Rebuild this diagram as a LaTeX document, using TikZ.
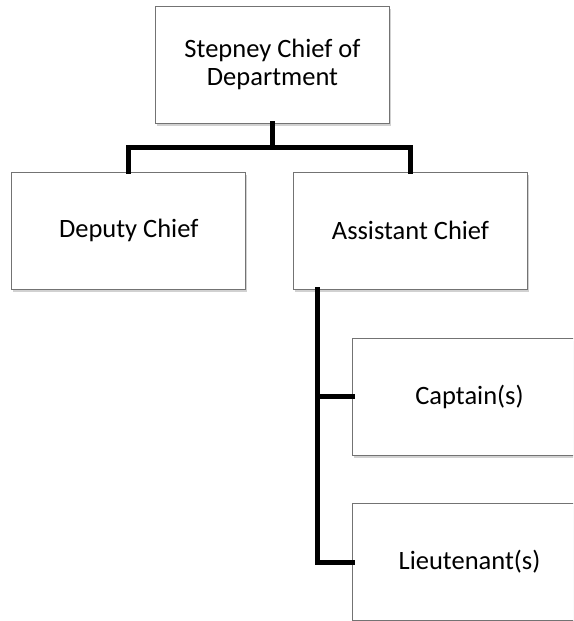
\documentclass[tikz,border=0pt]{standalone}
\usepackage{fontspec}
\setmainfont{Carlito}
\usetikzlibrary{shadows}
\tikzset{
  orgbox/.style={draw=black!55, line width=0.9pt, fill=white, minimum width=234pt, minimum height=117pt,
    inner sep=0pt, align=center, font=\fontsize{26.5}{28.5}\selectfont,
    drop shadow={shadow xshift=1.5pt, shadow yshift=-2.5pt, opacity=0.3, fill=black!60}},
  link/.style={line width=5pt, line join=miter, line cap=rect}
}
\begin{document}
\begin{tikzpicture}[x=1pt,y=-1pt]
\useasboundingbox (0,0) rectangle (573,621);
\clip (0,0) rectangle (573,621);
\node[orgbox] (top) at (272.5,64.5) {Stepney Chief of\\Department};
\node[orgbox] (dep) at (128.7,230.5) {Deputy Chief};
\node[orgbox] (asst) at (410.5,230.5) {Assistant Chief};
\node[orgbox] (capt) at (469.5,396.5) {Captain(s)};
\node[orgbox] (lieu) at (469.5,562) {Lieutenant(s)};
\coordinate (jt) at (272.5,147.5);
\draw[link] (top.south) -- (jt);
\draw[link] (dep.north) |- (jt) -| (asst.north);
\coordinate (av) at (317.5,396.5);
\draw[link] (asst.south -| av) |- (lieu.west);
\draw[link] (av) -- (capt.west);
\end{tikzpicture}
\end{document}
